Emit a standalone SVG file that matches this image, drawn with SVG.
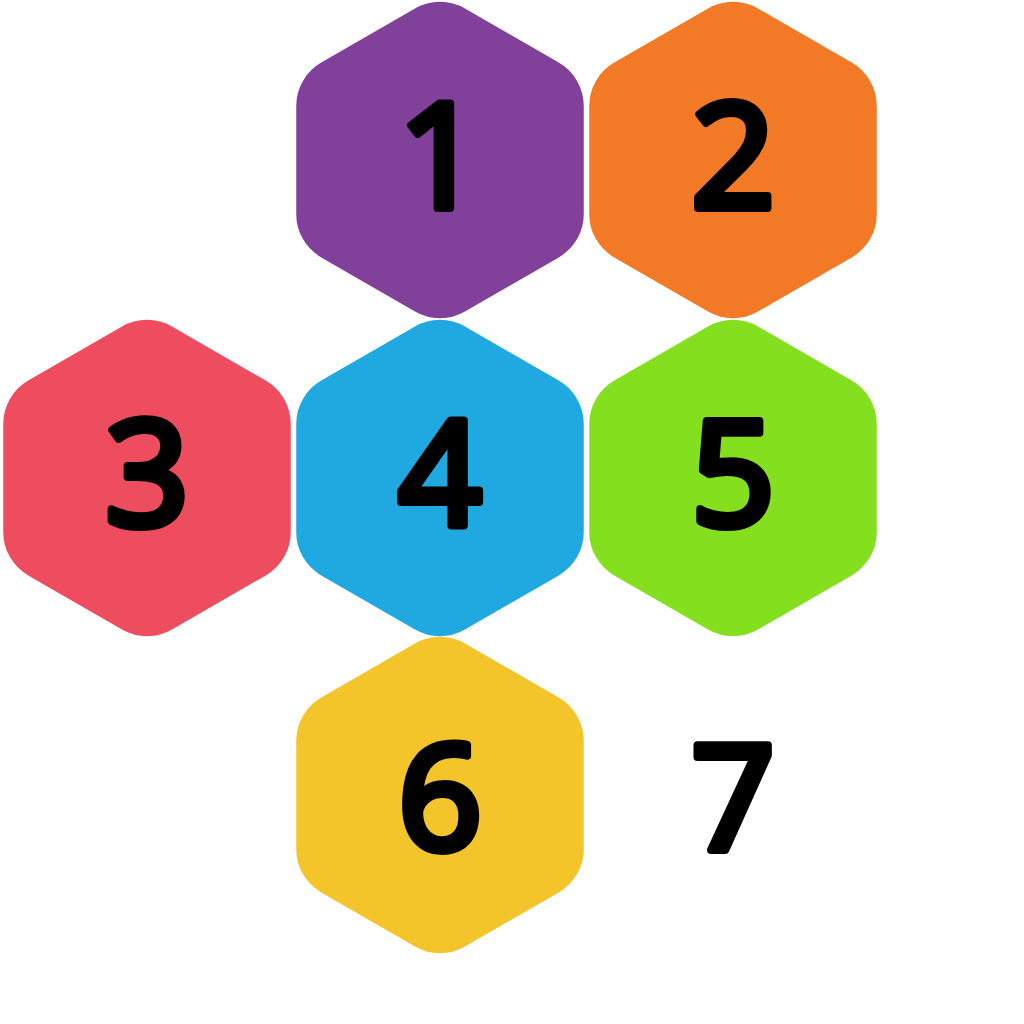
<svg xmlns="http://www.w3.org/2000/svg" xmlns:xlink="http://www.w3.org/1999/xlink" width="1024" height="1024" viewBox="0 0 1024 1024">
<style>
.num{font-family:"Noto Sans","Liberation Sans",sans-serif;font-weight:400;font-size:147px;fill:#000;text-anchor:middle;stroke:#000;stroke-width:8;stroke-linejoin:round;stroke-linecap:round}
</style>
<defs>
<path id="hex" d="M-25,-151.57 A50,50 0 0 1 25,-151.57 L118.76,-97.43 A50,50 0 0 1 143.76,-54.1 L143.76,54.1 A50,50 0 0 1 118.76,97.43 L25,151.57 A50,50 0 0 1 -25,151.57 L-118.76,97.43 A50,50 0 0 1 -143.76,54.1 L-143.76,-54.1 A50,50 0 0 1 -118.76,-97.43 Z"/>
</defs>
<rect width="1024" height="1024" fill="#fff"/>
<g id="node1"><use xlink:href="#hex" href="#hex" transform="translate(440,160)" fill="#81409A"/><text class="num" x="440" y="208">1</text></g>
<g id="node2"><use xlink:href="#hex" href="#hex" transform="translate(733,160)" fill="#F27A26"/><text class="num" x="733" y="208">2</text></g>
<g id="node3"><use xlink:href="#hex" href="#hex" transform="translate(147,478)" fill="#EE4D5F"/><text class="num" x="147" y="526">3</text></g>
<g id="node4"><use xlink:href="#hex" href="#hex" transform="translate(440,478)" fill="#1FA9E0"/><text class="num" x="440" y="526">4</text></g>
<g id="node5"><use xlink:href="#hex" href="#hex" transform="translate(733,478)" fill="#84E01F"/><text class="num" x="733" y="526">5</text></g>
<g id="node6"><use xlink:href="#hex" href="#hex" transform="translate(440,795)" fill="#F4C42B"/><text class="num" x="440" y="850">6</text></g>
<g id="node7"><use xlink:href="#hex" href="#hex" transform="translate(733,795)" fill="#FFFFFF"/><text class="num" x="733" y="850">7</text></g>
<g id="connectors"/>
</svg>
